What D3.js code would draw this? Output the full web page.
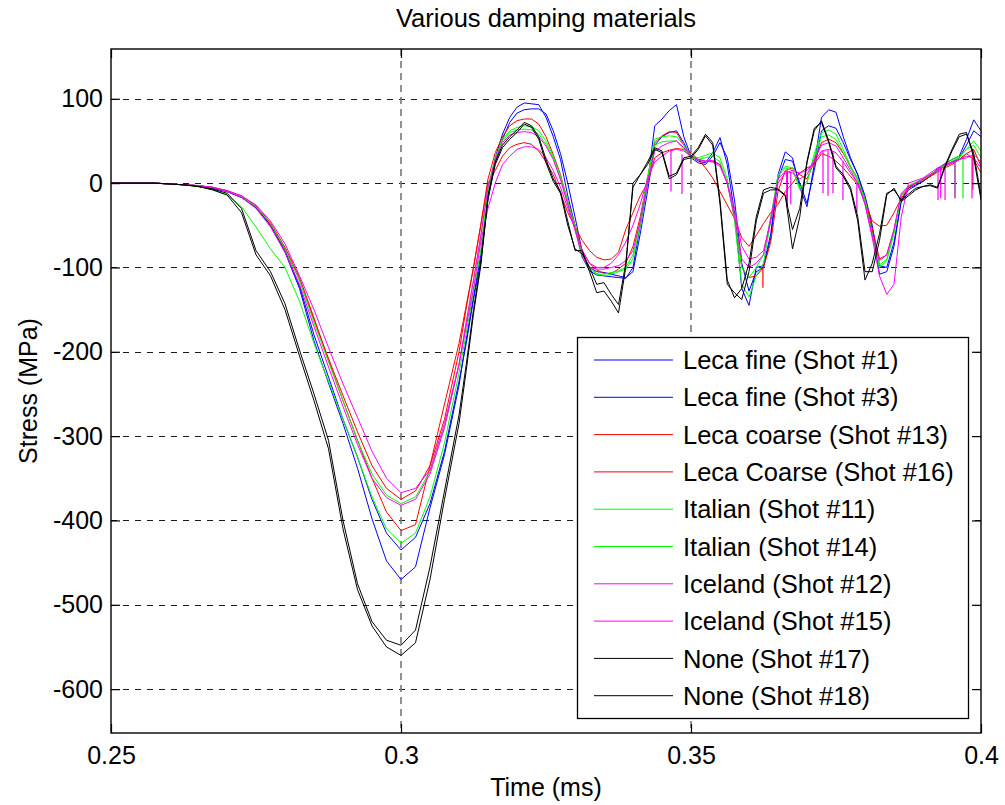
<!DOCTYPE html>
<html>
<head>
<meta charset="utf-8">
<script src="https://cdn.jsdelivr.net/npm/d3@7"></script>
<style>
  body { margin: 0; background: #fff; }
  text { font-family: "Liberation Sans", Arial, Helvetica, sans-serif; fill: #000; }
</style>
</head>
<body>
<svg id="chart" width="1005" height="805"></svg>
<script>
// Sample times (ms), shared by every shot
const timeMs = [
  0.25, 0.2575, 0.26, 0.2625, 0.265, 0.2675, 0.27, 0.2725, 0.275, 0.2775,
  0.28, 0.2825, 0.285, 0.2875, 0.29, 0.2925, 0.295, 0.2975, 0.30, 0.3025,
  0.305, 0.3075, 0.31, 0.31125, 0.3125, 0.31375, 0.315, 0.31625, 0.3175, 0.31875,
  0.32, 0.32125, 0.3225, 0.32375, 0.325, 0.32625, 0.3275, 0.32875, 0.33, 0.33125,
  0.3325, 0.33375, 0.335, 0.33625, 0.3375, 0.33875, 0.34, 0.34125, 0.3425, 0.34375,
  0.345, 0.34625, 0.3475, 0.34875, 0.35, 0.35125, 0.3525, 0.35375, 0.355, 0.35625,
  0.3575, 0.35875, 0.36, 0.36125, 0.3625, 0.36375, 0.365, 0.36625, 0.3675, 0.36875,
  0.37, 0.37125, 0.3725, 0.37375, 0.375, 0.37625, 0.3775, 0.37875, 0.38, 0.38125,
  0.3825, 0.38375, 0.385, 0.38625, 0.3875, 0.38875, 0.39, 0.39125, 0.3925, 0.39375,
  0.395, 0.39625, 0.3975, 0.39875, 0.40
];

// Stress (MPa) per shot
const lecaFine1 = [
  0, 0, -1, -2, -3, -6, -10, -17, -29, -50,
  -82, -125, -187, -237, -285, -338, -398, -448, -470, -455,
  -385, -322, -240, -185, -135, -85, -15, 30, 58, 78,
  90, 95, 94, 93, 78, 55, 28, -15, -50, -88,
  -104, -109, -110, -111, -112, -113, -100, -50, 0, 68,
  76, 86, 93, 55, 32, 26, 24, 36, 54, 22,
  -35, -125, -145, -100, -98, -60, 10, 37, 30, -5,
  -28, 22, 78, 87, 84, 55, 30, 10, -20, -55,
  -108, -105, -75, -20, -6, -2, 2, 9, 17, 23,
  28, 32, 52, 75, 62
];
const lecaFine3 = [
  0, 0, -1, -2, -3, -6, -10, -17, -29, -50,
  -80, -122, -180, -230, -280, -325, -375, -415, -435, -420,
  -380, -318, -235, -190, -138, -92, -20, 25, 52, 72,
  83, 87, 88, 88, 82, 62, 35, 0, -40, -82,
  -100, -105, -106, -108, -110, -112, -105, -60, -10, 45,
  55, 60, 62, 48, 30, 24, 22, 32, 48, 30,
  -20, -95, -128, -105, -100, -65, 5, 28, 26, 0,
  -24, 15, 62, 68, 65, 48, 28, 10, -15, -50,
  -98, -100, -70, -22, -8, -3, 2, 8, 15, 20,
  25, 30, 45, 62, 55
];
const lecaCoarse13 = [
  0, 0, -1, -2, -3, -5, -9, -15, -27, -47,
  -76, -112, -160, -210, -258, -305, -350, -390, -412, -405,
  -335, -262, -190, -145, -100, -50, 5, 36, 55, 68,
  74, 76, 76, 70, 55, 34, 10, -22, -50, -80,
  -95, -103, -107, -107, -102, -95, -75, -40, 5, 48,
  56, 61, 60, 45, 30, 28, 26, 26, 22, 0,
  -40, -100, -112, -110, -100, -70, -10, 15, 18, 10,
  5, 25, 48, 52, 48, 35, 20, 5, -20, -55,
  -90, -85, -55, -15, -5, 0, 3, 8, 15, 20,
  24, 28, 35, 40, 20
];
const lecaCoarse16 = [
  0, 0, -1, -2, -3, -5, -9, -16, -28, -49,
  -78, -115, -162, -208, -252, -295, -335, -362, -375, -365,
  -335, -280, -200, -148, -100, -50, 0, 15, 32, 42,
  46, 48, 46, 38, 25, 10, -12, -35, -52, -68,
  -80, -88, -91, -90, -82, -55, -35, -15, 0, 30,
  36, 39, 41, 40, 36, 28, 18, 6, -10, -26,
  -42, -65, -75, -62, -48, -35, -25, -10, 0, 12,
  18, 22, 35, 32, 26, 18, 8, -2, -22, -45,
  -51, -50, -35, -18, -6, 0, 4, 8, 13, 18,
  22, 28, 35, 28, 12
];
const italian11 = [
  0, 0, -1, -2, -4, -8, -14, -28, -52, -78,
  -100, -140, -190, -235, -280, -325, -372, -410, -427, -415,
  -372, -308, -225, -178, -128, -80, -10, 28, 52, 62,
  66, 68, 67, 62, 50, 32, 8, -22, -50, -85,
  -100, -107, -110, -108, -105, -102, -90, -50, 5, 52,
  55, 56, 55, 45, 32, 30, 33, 36, 30, 5,
  -45, -120, -135, -110, -95, -45, 10, 20, 18, -8,
  0, 35, 60, 63, 58, 40, 20, 5, -20, -60,
  -100, -92, -60, -15, -4, 0, 4, 10, 15, 22,
  28, 32, 40, 50, 38
];
const italian14 = [
  0, 0, -1, -2, -3, -5, -9, -16, -28, -48,
  -78, -115, -165, -212, -258, -305, -345, -370, -380, -372,
  -342, -290, -215, -165, -115, -65, -5, 30, 50, 60,
  63, 64, 63, 58, 46, 30, 5, -25, -55, -88,
  -102, -108, -108, -106, -104, -100, -85, -45, 8, 45,
  49, 50, 50, 40, 30, 28, 30, 32, 25, 0,
  -40, -100, -112, -100, -85, -40, 8, 18, 15, -5,
  2, 30, 55, 57, 52, 36, 18, 3, -22, -62,
  -97, -90, -58, -14, -3, 1, 5, 10, 16, 20,
  26, 30, 40, 45, 30
];
const iceland12 = [
  0, 0, -1, -2, -3, -5, -9, -15, -26, -45,
  -72, -110, -150, -195, -238, -278, -318, -350, -367, -362,
  -340, -285, -215, -170, -125, -70, -30, 0, 22, 32,
  40, 43, 43, 40, 30, 15, -5, -30, -55, -80,
  -95, -100, -100, -95, -85, -70, -50, -25, 5, 25,
  32, 38, 40, 38, 32, 28, 26, 25, 20, 0,
  -30, -75, -90, -88, -80, -45, 0, 12, 15, 12,
  15, 25, 38, 40, 36, 25, 12, 0, -25, -65,
  -110, -132, -120, -40, 0, 3, 6, 12, 18, 22,
  25, 28, 32, 30, 18
];
const iceland15 = [
  0, 0, -1, -2, -3, -5, -10, -17, -30, -52,
  -82, -120, -170, -218, -265, -310, -350, -373, -382, -375,
  -345, -290, -215, -165, -115, -62, -5, 28, 48, 57,
  60, 61, 60, 55, 44, 28, 4, -25, -55, -88,
  -100, -102, -102, -100, -98, -92, -80, -45, 0, 38,
  44, 48, 50, 42, 32, 28, 26, 27, 22, 0,
  -40, -90, -100, -95, -85, -42, 5, 14, 12, 5,
  10, 28, 45, 48, 44, 30, 15, 0, -25, -62,
  -92, -85, -55, -12, -4, 0, 5, 10, 15, 20,
  24, 28, 30, 34, 25
];
const none17 = [
  0, 0, -1, -2, -4, -7, -12, -30, -80, -105,
  -143, -198, -250, -305, -400, -475, -520, -542, -548, -530,
  -455, -365, -275, -215, -150, -95, -15, 25, 45, 55,
  63, 72, 68, 55, 28, 5, -10, -45, -80, -80,
  -105, -130, -128, -140, -154, -100, 0, 10, 25, 42,
  38, 8, 12, 30, 32, 42, 58, 48, -20, -115,
  -136, -125, -95, -40, -8, -5, -7, -14, -78, -40,
  24, 62, 74, 50, 20, 10, -5, -40, -105, -105,
  -68, -14, -6, -22, -15, -8, -4, -2, -5, 20,
  40, 58, 60, 30, -20
];
const none18 = [
  0, 0, -1, -2, -4, -8, -14, -35, -85, -110,
  -150, -205, -258, -315, -410, -482, -525, -550, -560, -545,
  -470, -375, -285, -222, -155, -98, -18, 22, 42, 52,
  60, 70, 66, 52, 24, 2, -12, -50, -78, -84,
  -100, -120, -118, -132, -144, -95, -5, 10, 22, 40,
  36, 5, 10, 28, 30, 40, 56, 45, -25, -120,
  -130, -138, -105, -45, -12, -8, -8, -15, -55, -30,
  26, 65, 72, 48, 18, 8, -8, -45, -115, -95,
  -60, -12, -8, -20, -13, -6, -4, -3, -6, 18,
  38, 55, 58, 35, -15
];

// Momentary signal dropouts: [time (ms), stress before, stress at dip]
const iceland12Dropouts = [
  [0.34655, 38, -10], [0.34845, 34, -13], [0.3665, 12, -28], [0.3672, 13, -25],
  [0.37276, 39, -12], [0.37362, 40, -15], [0.37448, 38, -12], [0.3762, 26, -20],
  [0.3786, 0, -35], [0.39259, 18, -20], [0.39305, 19, -18], [0.3938, 21, -20],
  [0.39552, 25, -18], [0.39845, 31, -18]
];
const lecaCoarse13Dropouts = [[0.3624, -100, -124], [0.3666, 15, -28], [0.3986, 40, -8]];
const italian14Dropouts = [[0.3955, 26, -18], [0.3969, 30, -18]];

const seriesNames = [
  "Leca fine (Shot #1)", "Leca fine (Shot #3)",
  "Leca coarse (Shot #13)", "Leca Coarse (Shot #16)",
  "Italian (Shot #11)", "Italian (Shot #14)",
  "Iceland (Shot #12)", "Iceland (Shot #15)",
  "None (Shot #17)", "None (Shot #18)"
];
const seriesValues = [lecaFine1, lecaFine3, lecaCoarse13, lecaCoarse16,
  italian11, italian14, iceland12, iceland15, none17, none18];
const seriesDropouts = [[], [], lecaCoarse13Dropouts, [], [], italian14Dropouts,
  iceland12Dropouts, [], [], []];
const seriesColors = ["#0000ff", "#0000ff", "#ff0000", "#ff0000", "#00ff00",
  "#00ff00", "#ff00ff", "#ff00ff", "#000000", "#000000"];

const xTicks = [0.25, 0.3, 0.35, 0.4];
const xTickLabels = ["0.25", "0.3", "0.35", "0.4"];
const yTicks = [-600, -500, -400, -300, -200, -100, 0, 100];
const yTickLabels = ["-600", "-500", "-400", "-300", "-200", "-100", "0", "100"];

const W = 1005, H = 805;
const plot = { left: 111, right: 981, top: 49, bottom: 733 };
const svg = d3.select("#chart");
svg.append("rect").attr("width", W).attr("height", H).attr("fill", "#fff");

const x = d3.scaleLinear().domain([0.25, 0.4]).range([plot.left, plot.right]);
const y = d3.scaleLinear().domain([-652, 159]).range([plot.bottom, plot.top]);
const crisp = v => Math.round(v) + 0.5;

// dashed grid
const grid = svg.append("g");
grid.selectAll("line.h").data(yTicks).join("line").attr("class", "h")
  .attr("x1", plot.left).attr("x2", plot.right)
  .attr("y1", d => crisp(y(d))).attr("y2", d => crisp(y(d)))
  .attr("stroke", "#1a1a1a").attr("stroke-width", 1).attr("stroke-dasharray", "6,6");
grid.selectAll("line.v").data(xTicks.slice(1, -1)).join("line").attr("class", "v")
  .attr("x1", d => Math.round(x(d))).attr("x2", d => Math.round(x(d)))
  .attr("y1", plot.top).attr("y2", plot.bottom)
  .attr("stroke", "#777").attr("stroke-width", 1.6).attr("stroke-dasharray", "7,5");

// traces
svg.append("defs").append("clipPath").attr("id", "plotClip")
  .append("rect").attr("x", plot.left).attr("y", plot.top)
  .attr("width", plot.right - plot.left).attr("height", plot.bottom - plot.top);
const traces = svg.append("g").attr("clip-path", "url(#plotClip)");
const line = d3.line().x((d, i) => x(timeMs[i])).y(d => y(d));
seriesValues.forEach((vals, k) => {
  const g = traces.append("g");
  g.append("path").attr("d", line(vals)).attr("fill", "none")
    .attr("stroke", seriesColors[k]).attr("stroke-width", 1)
    .attr("stroke-linejoin", "round");
  g.selectAll("line").data(seriesDropouts[k]).join("line")
    .attr("x1", d => x(d[0])).attr("x2", d => x(d[0]))
    .attr("y1", d => y(d[1])).attr("y2", d => y(d[2]))
    .attr("stroke", seriesColors[k]).attr("stroke-width", 1.2);
});

// axes with inward ticks
const tickLen = 9;
const fontAxis = 25;
const axL = svg.append("g").attr("transform", `translate(${plot.left},0)`)
  .call(d3.axisLeft(y).tickValues(yTicks).tickFormat((d, i) => yTickLabels[i])
    .tickSizeInner(-tickLen).tickSizeOuter(0).tickPadding(8));
const axR = svg.append("g").attr("transform", `translate(${plot.right},0)`)
  .call(d3.axisRight(y).tickValues(yTicks).tickFormat("")
    .tickSizeInner(-tickLen).tickSizeOuter(0));
const axB = svg.append("g").attr("transform", `translate(0,${plot.bottom})`)
  .call(d3.axisBottom(x).tickValues(xTicks).tickFormat((d, i) => xTickLabels[i])
    .tickSizeInner(-tickLen).tickSizeOuter(0).tickPadding(13));
const axT = svg.append("g").attr("transform", `translate(0,${plot.top})`)
  .call(d3.axisTop(x).tickValues(xTicks).tickFormat("")
    .tickSizeInner(-tickLen).tickSizeOuter(0));
[axL, axR, axB, axT].forEach(a => {
  a.select(".domain").remove();
  a.selectAll(".tick line").attr("stroke", "#000").attr("stroke-width", 1.2);
  a.selectAll(".tick text").attr("font-size", fontAxis)
    .attr("font-family", "'Liberation Sans', Arial, sans-serif").attr("fill", "#000");
});

// axes box
svg.append("rect").attr("x", plot.left).attr("y", plot.top)
  .attr("width", plot.right - plot.left).attr("height", plot.bottom - plot.top)
  .attr("fill", "none").attr("stroke", "#000").attr("stroke-width", 1.4);

// titles
const midX = (plot.left + plot.right) / 2;
svg.append("text").attr("x", midX).attr("y", 27).attr("text-anchor", "middle")
  .attr("font-size", 25.5).text("Various damping materials");
svg.append("text").attr("x", midX).attr("y", 796).attr("text-anchor", "middle")
  .attr("font-size", 25).text("Time (ms)");
svg.append("text").attr("transform", `translate(37,${(plot.top + plot.bottom) / 2}) rotate(-90)`)
  .attr("text-anchor", "middle").attr("font-size", 25).text("Stress (MPa)");

// legend
const legend = { left: 577, top: 337, width: 391, height: 381, rowStart: 360, rowStep: 37.3 };
const lg = svg.append("g");
lg.append("rect").attr("x", legend.left + 0.5).attr("y", legend.top + 0.5)
  .attr("width", legend.width).attr("height", legend.height)
  .attr("fill", "#fff").attr("stroke", "#000").attr("stroke-width", 1.3);
const rows = lg.selectAll("g.row").data(seriesNames).join("g").attr("class", "row")
  .attr("transform", (d, i) => `translate(0,${legend.rowStart + i * legend.rowStep})`);
rows.append("line").attr("x1", 594).attr("x2", 673).attr("y1", 0).attr("y2", 0)
  .attr("stroke", (d, i) => seriesColors[i]).attr("stroke-width", 1);
rows.append("text").attr("x", 683).attr("y", 0).attr("dy", "0.36em")
  .attr("font-size", 25.5).text(d => d);
</script>
</body>
</html>
